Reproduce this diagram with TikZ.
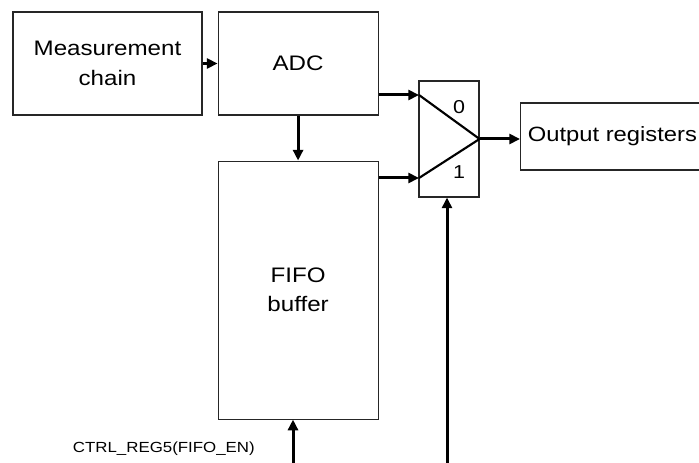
\documentclass[tikz,border=0pt]{standalone}
\usepackage{fontspec}
\setmainfont{Liberation Sans}[FakeStretch=1.15]
\usetikzlibrary{arrows.meta,positioning}
\tikzset{
  mbox/.style={draw=black!85,line width=0.8pt,align=center,font=\fontsize{15.75pt}{22pt}\selectfont,inner sep=2pt},
  mmux/.style={draw=black!85,line width=0.8pt,minimum width=45pt,minimum height=87pt,inner sep=0pt},
  mtri/.style={line width=1.6pt,line join=miter},
  msig/.style={-{Triangle[length=8pt,width=7.5pt]},line width=2.25pt},
  mnum/.style={font=\fontsize{14pt}{16pt}\selectfont,inner sep=0pt},
  mlab/.style={font=\fontsize{11pt}{13pt}\selectfont,inner sep=0pt}
}
\begin{document}
\begin{tikzpicture}[x=0.75pt,y=-0.75pt]
\useasboundingbox (0,0) rectangle (699,463);
\clip (0,0) rectangle (699,463);
\node[mbox,minimum width=141.75pt,minimum height=77.25pt] (meas) at (107.5,63.5) {Measurement\\ chain};
\node[mbox,minimum width=120pt,minimum height=77.25pt,right=11.25pt of meas] (adc) {ADC};
\node[mbox,minimum width=120pt,minimum height=193.5pt,below=33.75pt of adc] (fifo) {FIFO\\ buffer};
\node[mmux] (mux) at (449,139) {};
\node[mbox,anchor=west,minimum height=50.25pt,inner xsep=5.5pt,font=\fontsize{15.5pt}{22pt}\selectfont] (outreg) at (520,136.5) {Output registers};
\coordinate (in0) at (419,95);
\coordinate (in1) at (419,178);
\coordinate (fen) at (293,463);
\coordinate (sel) at (447,463);
\draw[mtri] (in0) -- (mux.east) -- (in1);
\node[mnum] (n0) at (459,107) {0};
\node[mnum] (n1) at (459,172) {1};
\draw[msig] (meas) -- (adc);
\draw[msig] (adc) -- (fifo);
\draw[msig] (adc.east |- in0) -- (in0);
\draw[msig] (fifo.east |- in1) -- (in1);
\draw[msig] (mux.east) -- (outreg.west |- mux.east);
\draw[msig] (fen) -- (fen |- fifo.south);
\draw[msig] (sel) -- (sel |- mux.south);
\node[mlab,anchor=east] (fifoen) at (255,449) {CTRL\_REG5(FIFO\_EN)};
\end{tikzpicture}
\end{document}
